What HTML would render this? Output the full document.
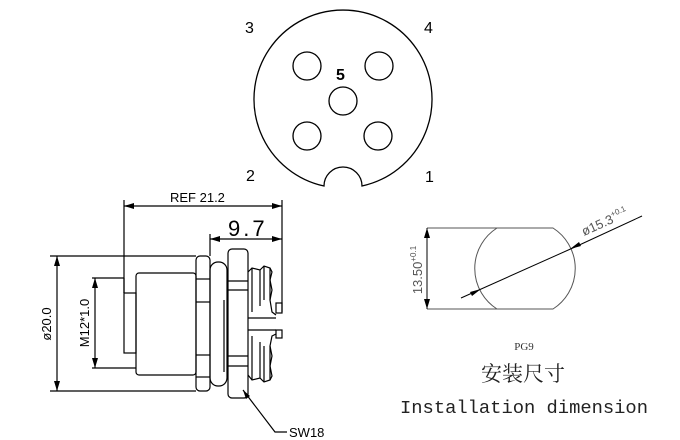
<!DOCTYPE html>
<html><head><meta charset="utf-8"><style>
html,body{margin:0;padding:0;background:#fff;}
svg{display:block;}
.s{font-family:"Liberation Sans",sans-serif;}
</style></head><body>
<svg width="680" height="440" viewBox="0 0 680 440" xmlns="http://www.w3.org/2000/svg">
<defs>
<marker id="a" viewBox="0 0 10 6" refX="10" refY="3" markerWidth="10" markerHeight="6" orient="auto-start-reverse" markerUnits="userSpaceOnUse"><path d="M0,0 L10,3 L0,6 Z" fill="#000"/></marker>
</defs>
<g fill="none" stroke="#000" stroke-width="1.3">
<!-- top face -->
<path d="M324,186 A89,89 0 1 1 362,186 A19,19 0 0 0 324,186 Z"/>
<circle cx="307" cy="66" r="14"/>
<circle cx="379" cy="66" r="14"/>
<circle cx="343" cy="101" r="14"/>
<circle cx="307" cy="136" r="14"/>
<circle cx="378" cy="136" r="14"/>
</g>
<g class="s" font-size="16" fill="#000">
<text x="245" y="33">3</text>
<text x="424" y="33">4</text>
<text x="336" y="80" font-weight="bold">5</text>
<text x="246" y="181">2</text>
<text x="425" y="182">1</text>
</g>

<!-- side view -->
<g fill="none" stroke="#000" stroke-width="1.2">
<!-- dims -->
<line x1="124" y1="200" x2="124" y2="293"/>
<line x1="282" y1="200" x2="282" y2="312"/>
<line x1="124" y1="206" x2="282" y2="206" marker-start="url(#a)" marker-end="url(#a)"/>
<line x1="210" y1="234" x2="210" y2="256"/>
<line x1="210" y1="239" x2="282" y2="239" marker-start="url(#a)" marker-end="url(#a)"/>
<line x1="50" y1="256" x2="196" y2="256"/>
<line x1="50" y1="391" x2="196" y2="391"/>
<line x1="57" y1="256" x2="57" y2="391" marker-start="url(#a)" marker-end="url(#a)"/>
<line x1="92" y1="278" x2="124" y2="278"/>
<line x1="92" y1="368" x2="136" y2="368"/>
<line x1="95" y1="278" x2="95" y2="368" marker-start="url(#a)" marker-end="url(#a)"/>
<!-- stub -->
<rect x="124" y="293" width="12" height="60"/>
<line x1="124" y1="278" x2="124" y2="293"/>
<!-- body -->
<rect x="136" y="273" width="60" height="102" rx="3"/>
<!-- hex nut 1 -->
<rect x="196" y="256" width="14" height="135" rx="4"/>
<line x1="196" y1="279" x2="210" y2="279"/>
<line x1="196" y1="302" x2="210" y2="302"/>
<line x1="196" y1="355" x2="210" y2="355"/>
<line x1="196" y1="377" x2="210" y2="377"/>
<!-- o-ring -->
<rect x="210" y="262" width="17" height="124" rx="8"/>
<line x1="224" y1="300" x2="224" y2="372"/>
<!-- nut 2 -->
<rect x="228" y="249" width="20" height="149" rx="4"/>
<line x1="228" y1="281" x2="248" y2="281"/>
<line x1="228" y1="290" x2="248" y2="290"/>
<line x1="228" y1="356" x2="248" y2="356"/>
<line x1="228" y1="366" x2="248" y2="366"/>
<!-- threads -->
<path d="M248,272 L252,268 L260,270 L264,266 L270,268 L272,272 L270,280 L272,290 L270,300 L272,312 L276,315"/>
<path d="M252,268 L252,312 M260,270 L260,306 M264,266 L264,300 M270,268 L270,300"/>
<path d="M248,375 L252,380 L260,378 L264,382 L270,380 L272,376 L270,366 L272,356 L270,346 L272,336 L276,334"/>
<path d="M252,380 L252,336 M260,378 L260,342 M264,382 L264,346 M270,380 L270,346"/>
<line x1="248" y1="318" x2="276" y2="318"/>
<line x1="248" y1="330" x2="276" y2="330"/>
<rect x="276" y="303" width="6" height="10"/>
<rect x="276" y="330" width="6" height="8"/>
<!-- leader -->
<polyline points="243,390 275,432 287,432"/>
</g>
<path d="M243,390 L250,396 L246,399 Z" fill="#000"/>
<g class="s" fill="#000">
<text x="170" y="202" font-size="13">REF  21.2</text>
<text x="228" y="236" font-size="22" letter-spacing="3">9.7</text>
<text x="289" y="437" font-size="13">SW18</text>
<text transform="translate(55,324) rotate(-90)" font-size="13" text-anchor="middle" dy="-4">ø20.0</text>
<text transform="translate(93,323) rotate(-90)" font-size="13" text-anchor="middle" dy="-4">M12*1.0</text>
</g>

<!-- install dim -->
<g fill="none" stroke="#000" stroke-width="1">
<path d="M497,228 L553,228 A48,48 0 0 1 553,309 L497,309 A48,48 0 0 1 497,228 Z" stroke="#555"/>
<line x1="427" y1="228" x2="497" y2="228" stroke="#555"/>
<line x1="427" y1="309" x2="497" y2="309" stroke="#555"/>
<line x1="427" y1="228" x2="427" y2="309" marker-start="url(#a)" marker-end="url(#a)"/>
<line x1="461" y1="298" x2="575" y2="247"/>
<line x1="575" y1="247" x2="642" y2="216"/>
</g>
<path d="M481,289 L472,296 L470,292 Z M570,249 L579,242 L581,246 Z" fill="#000"/>
<g class="s" fill="#555">
<text transform="translate(422,270) rotate(-90)" font-size="13" text-anchor="middle">13.50<tspan font-size="8" dy="-6">+0.1</tspan></text>
<text transform="translate(584,236) rotate(-24)" font-size="13">ø15.3<tspan font-size="8" dy="-6">+0.1</tspan></text>
</g>
<text x="524" y="350" font-family="Liberation Serif,serif" font-size="11" text-anchor="middle" fill="#333">PG9</text>
<text x="523" y="381" font-family="'Liberation Serif','Noto Serif CJK SC',serif" font-size="21" text-anchor="middle" fill="#222">安装尺寸</text>
<text x="524" y="413" font-family="'Liberation Mono',monospace" font-size="18.8" text-anchor="middle" fill="#222">Installation dimension</text>
</svg>
</body></html>
